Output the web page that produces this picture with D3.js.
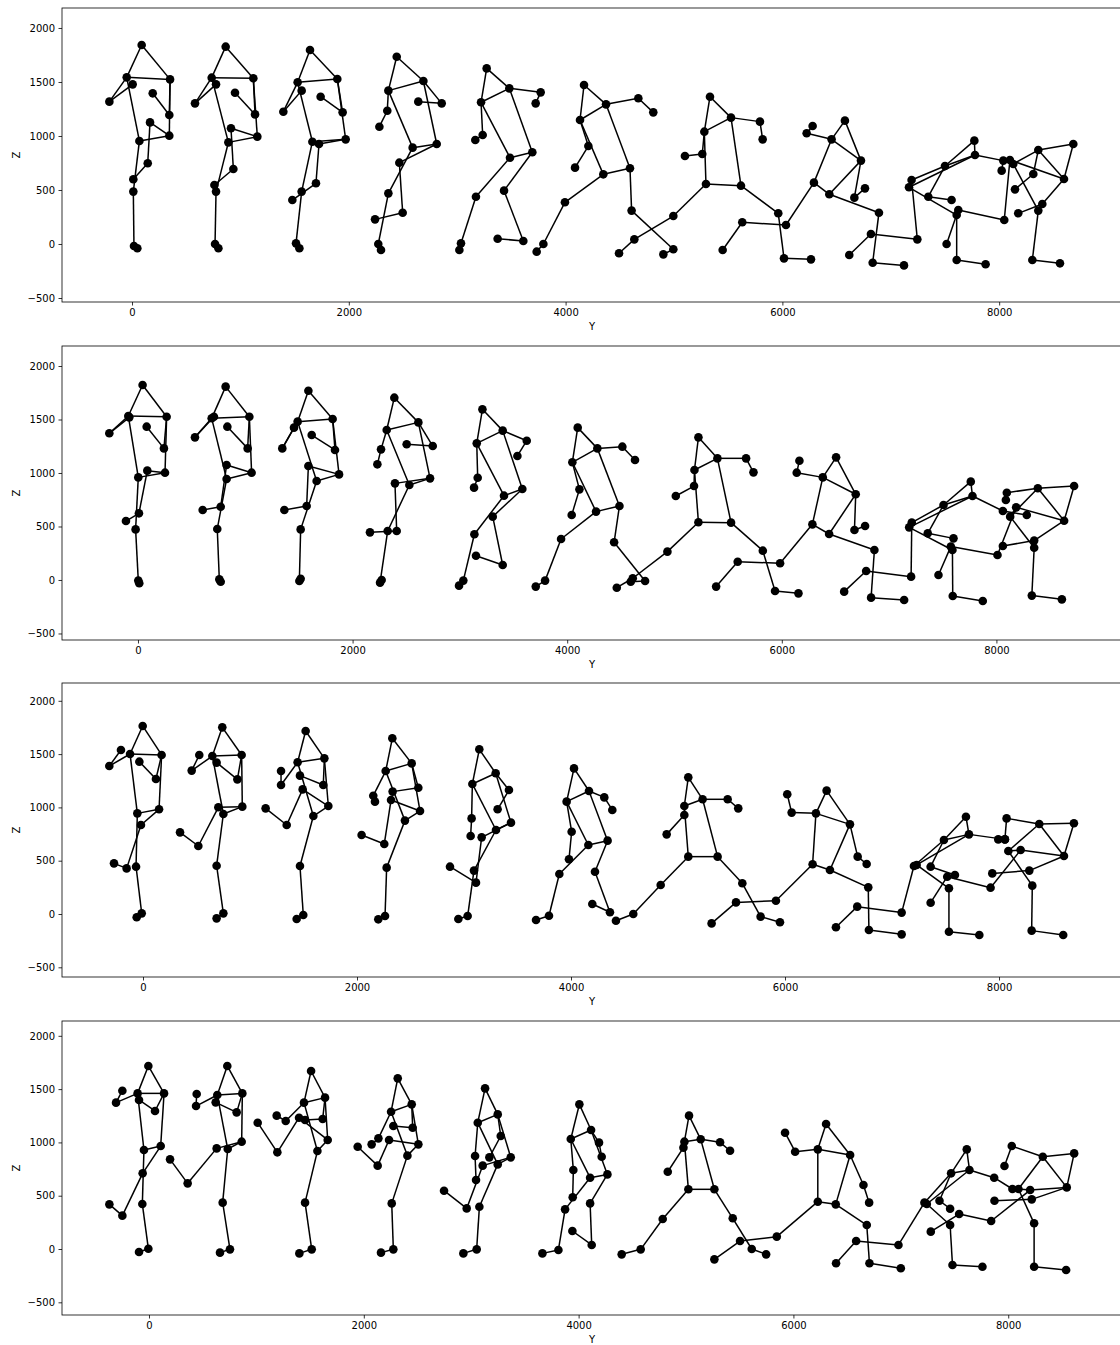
<!DOCTYPE html>
<html>
<head>
<meta charset="utf-8">
<script src="https://cdn.jsdelivr.net/npm/d3@7"></script>
<style>
  body { margin: 0; background: #fff; }
  svg { display: block; font-family: "DejaVu Sans", sans-serif; }
</style>
</head>
<body>
<div id="chart"></div>
<script>
// joints per skeleton: [Y, Z]
// order: head, sh1, el1, wr1, sh2, el2, wr2, hip1, kn1, an1, toe1, hip2, kn2, an2, toe2
const bones = [[0,1],[0,4],[1,4],[1,2],[2,3],[4,5],[5,6],[1,7],[4,11],[7,11],
               [7,8],[8,9],[9,10],[11,12],[12,13],[13,14]]

const panel1 = [
  [[89,1842],[-49,1543],[-209,1318],[6,1478],[351,1524],[344,1194],[191,1395],[68,954],[12,485],[18,-19],[49,-40],[344,1003],[166,1126],[145,747],[12,599]],
  [[864,1827],[735,1540],[581,1302],[775,1478],[1119,1534],[1135,1200],[950,1401],[889,941],[775,485],[766,0],[797,-40],[1156,994],[913,1071],[935,694],[760,546]],
  [[1642,1796],[1528,1497],[1396,1225],[1565,1420],[1894,1528],[1943,1219],[1740,1364],[1664,947],[1565,485],[1513,6],[1544,-40],[1971,969],[1725,926],[1697,562],[1479,407]],
  [[2442,1734],[2365,1420],[2355,1234],[2282,1086],[2688,1509],[2857,1302],[2641,1318],[2589,892],[2365,469],[2272,0],[2297,-56],[2811,926],[2466,753],[2497,290],[2242,228]],
  [[3272,1626],[3220,1312],[3235,1009],[3167,963],[3481,1441],[3770,1404],[3724,1302],[3487,799],[3173,438],[3035,6],[3020,-56],[3693,849],[3432,494],[3610,28],[3373,49]],
  [[4170,1472],[4133,1148],[4210,907],[4087,707],[4373,1293],[4671,1349],[4809,1219],[4348,645],[3994,386],[3795,0],[3733,-71],[4594,701],[4609,309],[4994,-49],[4902,-96]],
  [[5332,1364],[5280,1040],[5261,833],[5101,815],[5526,1170],[5793,1133],[5818,969],[5295,555],[4994,259],[4634,43],[4493,-86],[5618,540],[5962,284],[6015,-133],[6264,-142]],
  [[6577,1142],[6454,969],[6224,1025],[6279,1092],[6725,772],[6664,429],[6762,515],[6291,568],[6033,176],[5630,201],[5449,-56],[6433,460],[6891,290],[6833,-173],[7122,-198]],
  [[7771,957],[7500,722],[7346,438],[7561,407],[7777,824],[8038,772],[8023,679],[7192,593],[7245,43],[6817,93],[6617,-102],[7168,525],[7608,268],[7608,-148],[7875,-188]],
  [[8684,926],[8361,870],[8315,648],[8146,506],[8598,602],[8398,370],[8176,284],[8130,741],[8361,309],[8306,-148],[8561,-179],[8099,778],[8047,222],[7623,315],[7515,0]]
]

const panel2 = [
  [[43,1822],[-90,1533],[-267,1371],[-81,1520],[267,1526],[242,1230],[81,1433],[3,959],[-22,473],[3,-6],[12,-31],[252,1003],[87,1022],[9,623],[-112,551]],
  [[817,1807],[687,1511],[531,1333],[708,1526],[1038,1526],[1022,1230],[833,1433],[826,944],[739,477],[758,6],[771,-16],[1059,1003],[826,1075],[771,685],[603,654]],
  [[1588,1769],[1488,1480],[1345,1230],[1454,1424],[1814,1505],[1836,1215],[1619,1355],[1665,925],[1516,473],[1504,-9],[1516,12],[1874,987],[1588,1065],[1572,692],[1364,654]],
  [[2389,1704],[2318,1402],[2265,1221],[2231,1081],[2613,1473],[2747,1252],[2504,1268],[2529,888],[2327,458],[2256,-25],[2271,0],[2722,950],[2395,903],[2411,458],[2162,445]],
  [[3210,1595],[3157,1277],[3166,956],[3132,863],[3399,1396],[3623,1302],[3536,1159],[3411,788],[3135,427],[3032,-6],[2992,-53],[3582,850],[3306,592],[3399,140],[3150,227]],
  [[4098,1424],[4048,1100],[4114,847],[4042,607],[4281,1230],[4514,1246],[4632,1121],[4269,639],[3943,383],[3794,-6],[3707,-62],[4487,692],[4437,352],[4726,-9],[4592,-16]],
  [[5223,1333],[5186,1028],[5182,878],[5012,785],[5400,1137],[5667,1137],[5736,1006],[5223,539],[4934,265],[4611,16],[4462,-72],[5527,536],[5823,274],[5937,-103],[6155,-125]],
  [[6506,1146],[6382,959],[6139,1003],[6164,1115],[6689,801],[6677,467],[6776,505],[6285,520],[5984,156],[5589,171],[5388,-62],[6441,430],[6863,280],[6832,-165],[7140,-187]],
  [[7761,919],[7507,701],[7360,436],[7600,389],[7777,785],[8060,645],[8283,607],[7211,536],[7205,31],[6786,84],[6581,-109],[7187,492],[7590,280],[7593,-150],[7873,-196]],
  [[8724,878],[8386,857],[8097,816],[8088,748],[8631,554],[8352,368],[8060,318],[8128,592],[8352,302],[8330,-146],[8610,-181],[8184,679],[8010,234],[7575,312],[7460,47]]
]

const panel3 = [
  [[-3,1764],[-121,1501],[-315,1388],[-206,1538],[174,1492],[121,1266],[-34,1429],[-53,944],[-65,444],[-12,6],[-59,-31],[150,982],[-19,835],[-153,428],[-271,475]],
  [[741,1751],[648,1482],[455,1345],[526,1492],[922,1492],[882,1263],[688,1420],[751,938],[688,453],[751,6],[688,-41],[928,1007],[704,1001],[517,638],[346,766]],
  [[1520,1717],[1445,1423],[1290,1210],[1290,1341],[1695,1460],[1685,1210],[1467,1298],[1592,919],[1467,450],[1498,-9],[1436,-47],[1732,1013],[1492,1169],[1343,835],[1146,991]],
  [[2330,1648],[2268,1341],[2152,1110],[2168,1054],[2511,1413],[2573,1185],[2333,1148],[2448,876],[2277,435],[2262,-19],[2199,-50],[2589,966],[2318,1069],[2255,657],[2043,741]],
  [[3143,1545],[3078,1220],[3071,897],[3062,732],[3296,1320],[3420,1163],[3314,982],[3299,788],[3093,407],[3034,-19],[2947,-47],[3439,857],[3165,719],[3112,294],[2869,444]],
  [[4028,1366],[3959,1054],[4006,772],[3981,513],[4168,1154],[4311,1094],[4386,976],[4162,647],[3891,375],[3794,-16],[3673,-56],[4342,688],[4224,397],[4364,16],[4199,94]],
  [[5096,1282],[5059,1013],[5059,929],[4894,747],[5230,1076],[5464,1076],[5563,991],[5096,538],[4838,272],[4582,0],[4420,-63],[5370,538],[5601,288],[5772,-25],[5953,-78]],
  [[6389,1157],[6289,944],[6062,951],[6021,1123],[6607,841],[6679,538],[6763,469],[6258,466],[5915,125],[5542,109],[5314,-88],[6420,413],[6778,250],[6784,-150],[7090,-191]],
  [[7691,913],[7485,694],[7361,444],[7588,366],[7719,747],[8055,700],[7993,700],[7205,450],[7090,13],[6675,69],[6476,-125],[7230,460],[7532,241],[7532,-166],[7816,-197]],
  [[8700,851],[8376,844],[8071,897],[8055,700],[8607,544],[8283,407],[7937,381],[8087,591],[8311,266],[8305,-156],[8600,-197],[8202,600],[7921,247],[7516,350],[7361,106]]
]

const panel4 = [
  [[-6,1717],[-106,1460],[-307,1373],[-248,1485],[140,1460],[56,1295],[-93,1398],[-47,929],[-62,422],[-6,3],[-93,-28],[109,966],[-59,710],[-248,313],[-369,419]],
  [[729,1717],[636,1445],[438,1341],[444,1454],[869,1460],[816,1282],[621,1376],[733,938],[686,435],[754,-3],[661,-34],[863,1007],[630,944],[360,616],[196,841]],
  [[1509,1670],[1443,1373],[1273,1201],[1189,1251],[1639,1420],[1617,1220],[1453,1210],[1568,919],[1453,435],[1515,-3],[1400,-41],[1664,1023],[1397,1232],[1195,907],[1012,1185]],
  [[2316,1601],[2254,1288],[2136,1038],[2073,982],[2446,1357],[2455,1138],[2275,1154],[2406,876],[2260,428],[2275,-3],[2160,-34],[2508,982],[2235,1023],[2129,782],[1943,960]],
  [[3129,1507],[3061,1185],[3036,872],[3045,647],[3247,1263],[3275,1060],[3169,860],[3247,794],[3076,397],[3051,-3],[2927,-41],[3368,860],[3107,782],[2958,381],[2747,547]],
  [[4007,1357],[3927,1032],[3951,741],[3945,485],[4116,1116],[4190,998],[4215,866],[4107,669],[3874,372],[3812,-9],[3663,-41],[4268,700],[4107,428],[4122,38],[3942,169]],
  [[5028,1251],[4985,1007],[4976,951],[4830,725],[5137,1029],[5317,1001],[5410,922],[5022,560],[4783,281],[4578,-3],[4401,-50],[5264,560],[5435,288],[5612,0],[5746,-50]],
  [[6304,1173],[6227,935],[6016,913],[5922,1091],[6528,882],[6652,600],[6705,435],[6227,444],[5845,116],[5503,75],[5264,-97],[6394,419],[6683,225],[6708,-134],[7000,-181]],
  [[7614,935],[7468,710],[7360,453],[7459,378],[7639,741],[7869,669],[8039,563],[7220,435],[6978,38],[6584,75],[6397,-134],[7242,422],[7459,225],[7481,-150],[7760,-166]],
  [[8614,897],[8322,866],[8033,966],[7965,779],[8545,578],[8219,466],[7872,453],[8095,563],[8241,241],[8241,-166],[8539,-197],[8204,553],[7841,263],[7543,328],[7279,163]]
]

const panels = [panel1, panel2, panel3, panel4]

// axis limits per panel
const yLims = [[-646, 9124], [-708, 9161], [-757, 9140], [-810, 9050]]
const zLims = [[-537, 2185], [-561, 2187], [-591, 2167], [-619, 2139]]
const yTicks = [0, 2000, 4000, 6000, 8000]
const zTicks = [-500, 0, 500, 1000, 1500, 2000]

const W = 1120, H = 1345
const left = 62, plotW = 1059, plotH = 294
const tops = [8, 346, 683, 1021]

const svg = d3.select("#chart").append("svg").attr("width", W).attr("height", H)

panels.forEach((skels, p) => {
  const g = svg.append("g").attr("transform", `translate(${left},${tops[p]})`)

  const x = d3.scaleLinear().domain(yLims[p]).range([0, plotW])
  const y = d3.scaleLinear().domain(zLims[p]).range([plotH, 0])

  // bones
  skels.forEach(joints => {
    g.selectAll(null).data(bones).enter()
      .append("line")
      .attr("x1", d => x(joints[d[0]][0]))
      .attr("y1", d => y(joints[d[0]][1]))
      .attr("x2", d => x(joints[d[1]][0]))
      .attr("y2", d => y(joints[d[1]][1]))
      .attr("stroke", "#000")
      .attr("stroke-width", 1.5)
  })

  // joints
  skels.forEach(joints => {
    g.selectAll(null).data(joints).enter()
      .append("circle")
      .attr("cx", d => x(d[0]))
      .attr("cy", d => y(d[1]))
      .attr("r", 4.3)
      .attr("fill", "#000")
  })

  // frame
  g.append("rect")
    .attr("width", plotW).attr("height", plotH)
    .attr("fill", "none").attr("stroke", "#000").attr("stroke-width", 0.8)

  const xAxis = g.append("g").attr("transform", `translate(0,${plotH})`)
    .call(d3.axisBottom(x).tickValues(yTicks).tickSize(3.5).tickPadding(3.5).tickFormat(d3.format("d")))
  const yAxis = g.append("g")
    .call(d3.axisLeft(y).tickValues(zTicks).tickSize(3.5).tickPadding(3.5).tickFormat(d3.format("d")))

  ;[xAxis, yAxis].forEach(a => {
    a.select(".domain").remove()
    a.selectAll(".tick line").attr("stroke", "#000").attr("stroke-width", 0.8)
    a.selectAll(".tick text").attr("fill", "#000")
      .style("font-family", "DejaVu Sans").style("font-size", "10px")
  })

  g.append("text")
    .attr("x", plotW / 2 + 0.5).attr("y", plotH + 28)
    .attr("text-anchor", "middle")
    .style("font-size", "10px")
    .text("Y")

  g.append("text")
    .attr("transform", `translate(${20 - left},${plotH / 2}) rotate(-90)`)
    .attr("text-anchor", "middle")
    .style("font-size", "10px")
    .text("Z")
})
</script>
</body>
</html>
